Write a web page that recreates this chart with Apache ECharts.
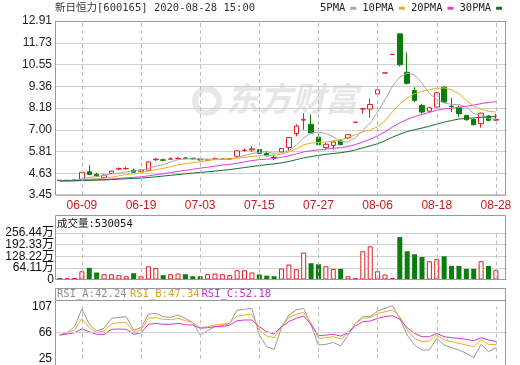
<!DOCTYPE html>
<html><head><meta charset="utf-8">
<script src="https://cdn.jsdelivr.net/npm/echarts@6/dist/echarts.min.js"></script>
<style>html,body{margin:0;padding:0;background:#fff}#c{width:520px;height:365px}</style>
</head><body><div id="c"></div>
<script>
const dates = ['06-04','06-05','06-08','06-09','06-10','06-11','06-12','06-15','06-16','06-17','06-18','06-19','06-22','06-23','06-24','06-29','06-30','07-01','07-02','07-03','07-06','07-07','07-08','07-09','07-10','07-13','07-14','07-15','07-16','07-17','07-20','07-21','07-22','07-23','07-24','07-27','07-28','07-29','07-30','07-31','08-03','08-04','08-05','08-06','08-07','08-10','08-11','08-12','08-13','08-14','08-17','08-18','08-19','08-20','08-21','08-24','08-25','08-26','08-27','08-28'];
const labelDates = ['06-09','06-19','07-03','07-15','07-27','08-06','08-18','08-28'];
const opens  = [4.25,4.24,4.24,4.30,4.71,4.57,4.39,4.62,4.86,4.88, 4.79,4.74,4.80,5.37,5.36,5.40,5.42,5.46,5.45,5.40, 5.32,5.40,5.38,5.40,5.56,5.87,5.90,5.92,5.70,5.50, 5.79,6.03,6.79,7.52,7.29,6.60,6.03,6.15,6.39,6.55, 7.40,8.13,8.12,8.95,10.08,11.09,12.21,10.12,9.13,8.32, 8.01,8.23,9.31,8.28,8.19,7.78,7.56,7.33,7.74,7.52];
const closes = [4.24,4.25,4.27,4.68,4.57,4.49,4.53,4.75,4.88,4.89, 4.69,4.80,5.25,5.40,5.34,5.41,5.44,5.44,5.42,5.36, 5.36,5.42,5.41,5.43,5.85,5.88,5.96,5.71,5.58,5.48, 5.98,6.57,7.20,7.55,6.82,6.19,6.21,6.33,6.19,6.73, 7.41,8.14,8.37,9.17,10.09,11.10,10.53,9.52,8.59,7.96, 8.19,9.00,8.50,8.26,7.87,7.54,7.27,7.90,7.51,7.56];
const lows   = [4.23,4.23,4.23,4.29,4.53,4.43,4.36,4.60,4.80,4.82, 4.66,4.70,4.79,5.30,5.28,5.39,5.40,5.40,5.38,5.33, 5.30,5.35,5.36,5.38,5.54,5.80,5.79,5.70,5.56,5.34, 5.77,5.85,6.64,7.00,6.79,6.15,5.92,5.92,6.15,6.50, 7.40,7.88,7.65,8.93,10.08,11.09,10.45,9.45,8.50,7.87, 7.95,8.20,8.45,7.95,7.68,7.50,7.25,7.11,7.46,7.47];
const highs  = [4.26,4.26,4.28,4.69,5.07,4.66,4.56,4.77,4.95,4.97, 4.88,4.83,5.27,5.46,5.42,5.50,5.50,5.52,5.47,5.42, 5.38,5.50,5.44,5.45,5.87,5.98,6.10,5.95,5.85,5.61, 6.00,6.58,7.29,7.90,7.83,6.79,6.28,6.42,6.48,6.76, 7.41,8.14,8.68,9.20,10.09,11.10,12.21,11.20,9.31,8.41, 8.25,9.05,9.35,8.73,8.32,7.80,7.58,7.92,7.80,7.87];
const ma5  = [4.23,4.24,4.24,4.33,4.40,4.45,4.51,4.60,4.64,4.71, 4.75,4.80,4.90,5.01,5.10,5.24,5.37,5.41,5.41,5.41, 5.40,5.40,5.39,5.40,5.49,5.60,5.71,5.77,5.80,5.72, 5.74,5.86,6.16,6.56,6.82,6.87,6.79,6.62,6.35,6.33, 6.57,6.96,7.37,7.96,8.63,9.37,9.85,10.08,9.97,9.54, 8.96,8.65,8.45,8.38,8.36,8.23,7.89,7.77,7.62,7.56];
const ma10 = [4.22,4.23,4.23,4.28,4.31,4.34,4.37,4.42,4.49,4.56, 4.60,4.66,4.75,4.83,4.90,4.99,5.09,5.15,5.21,5.26, 5.32,5.38,5.40,5.40,5.45,5.50,5.55,5.58,5.60,5.61, 5.67,5.79,5.96,6.18,6.27,6.30,6.33,6.39,6.45,6.58, 6.72,6.88,6.99,7.16,7.48,7.97,8.41,8.72,8.96,9.09, 9.17,9.25,9.27,9.17,8.95,8.60,8.27,8.11,8.00,7.96];
const ma20 = [4.22,4.22,4.23,4.25,4.27,4.28,4.29,4.32,4.35,4.39, 4.41,4.44,4.49,4.55,4.61,4.67,4.73,4.79,4.85,4.91, 4.96,5.02,5.08,5.11,5.18,5.25,5.32,5.37,5.40,5.43, 5.50,5.58,5.68,5.79,5.86,5.90,5.94,5.99,6.02,6.09, 6.19,6.33,6.48,6.67,6.88,7.14,7.37,7.56,7.71,7.83, 7.94,8.06,8.13,8.16,8.22,8.28,8.34,8.42,8.48,8.52];
const ma30 = [4.22,4.22,4.22,4.24,4.25,4.26,4.27,4.29,4.31,4.33, 4.35,4.37,4.40,4.44,4.48,4.52,4.56,4.60,4.64,4.68, 4.71,4.75,4.79,4.83,4.89,4.94,5.00,5.05,5.10,5.14, 5.20,5.27,5.37,5.47,5.54,5.60,5.66,5.71,5.75,5.81, 5.90,6.02,6.12,6.24,6.40,6.59,6.76,6.90,7.00,7.09, 7.19,7.30,7.41,7.50,7.58,7.61,7.64,7.67,7.70,7.72];
const volumes = [80000,70000,80000,457000,640000,385000,290000,290000,237000,180000, 347000,180000,730000,640000,237000,290000,330000,290000,180000,180000, 290000,330000,290000,240000,510000,510000,385000,275000,210000,180000, 605000,825000,567000,1486000,897000,840000,730000,585000,585000,180000, 70000,1557000,1830000,457000,275000,70000,2340000,1557000,1390000,1240000, 1007000,1117000,1280000,750000,750000,585000,585000,1007000,750000,530054];
const rsiA = [62.3,66.0,75.5,103.3,79.2,68.7,72.9,88.6,90.2,91.3, 70.2,73.9,94.9,96.5,91.3,90.2,93.9,88.6,81.8,62.3, 69.2,75.5,77.1,80.7,101.8,102.8,104.4,62.3,43.9,39.7, 73.9,93.9,101.8,104.4,78.1,46.6,47.6,50.8,45.0,62.3, 80.7,91.3,91.3,100.2,104.4,108.6,88.6,62.3,46.6,38.7, 38.7,57.1,46.6,42.4,38.7,33.4,26.6,47.6,36.1,42.24];
const rsiB = [62.3,65.0,70.2,88.6,73.9,66.5,68.7,79.7,81.8,81.8, 67.6,70.2,88.6,89.7,87.1,86.5,88.6,84.9,81.8,73.9, 75.5,78.1,79.2,81.8,92.3,93.9,94.9,70.2,60.8,58.1, 75.5,90.2,94.9,98.1,80.7,57.1,58.1,59.7,56.0,65.0, 80.7,88.6,89.7,96.5,99.1,101.8,91.3,70.2,57.1,51.8, 52.9,62.3,54.5,51.8,49.2,46.6,43.9,54.5,47.6,47.34];
const rsiC = [62.3,63.9,66.0,71.8,67.6,63.4,63.4,71.3,71.8,71.3, 63.4,66.0,79.2,80.7,79.2,79.2,80.7,78.6,78.1,72.9, 73.9,75.5,75.5,78.1,84.9,86.0,86.0,75.5,67.6,63.9, 75.5,83.4,88.6,92.3,79.2,61.3,62.3,63.4,60.8,66.0, 76.5,83.4,84.4,88.6,91.3,92.8,87.6,73.9,65.0,59.7, 59.7,65.0,59.7,58.1,57.1,55.5,53.4,58.1,54.5,52.18];
const priceTickLabels = ['3.45','4.63','5.81','7.00','8.18','9.36','10.55','11.73','12.91'];
const volTickLabels = ['0','64.11万','128.22万','192.33万','256.44万'];
const rsiTickLabels = ['25','66','107'];
const stockTitle = '新日恒力[600165] 2020-08-28 15:00';
const volTitle = '成交量:530054';
const rsiTitles = ['RSI_A:42.24','RSI_B:47.34','RSI_C:52.18'];

const RED = '#e41c23', GREEN = '#0b7d0b';
const C_MA5 = '#a9a9a9', C_MA10 = '#e8b224', C_MA20 = '#e23ce2', C_MA30 = '#176b2c';
const MONO = '"DejaVu Sans Mono","Noto Sans CJK SC",monospace';
const SANS = '"Liberation Sans","Noto Sans CJK SC",sans-serif';
const P_MIN = 3.45, P_MAX = 12.91, P_STEP = (P_MAX - P_MIN) / 8;
const V_STEP = 641100;

const cats = dates.concat(['']);
const candle = dates.map((d, i) => [opens[i], closes[i], lows[i], highs[i]]);
const volData = volumes.map((v, i) => {
  let up;
  if (closes[i] > opens[i]) up = true;
  else if (closes[i] < opens[i]) up = false;
  else up = i === 0 ? true : closes[i - 1] <= closes[i];
  return up ? {value: v, itemStyle: {color: '#fff', borderColor: RED, borderWidth: 1}}
            : {value: v, itemStyle: {color: GREEN}};
});
const vLines = labelDates.map(d => ({xAxis: d}));
const mlStyle = {symbol: ['none', 'none'], silent: true, animation: false, label: {show: false},
  lineStyle: {color: '#bdbdbd', type: [4, 3], width: 1}};

const L = 56, W = 451;
const grids = [
  {left: L, top: 21, width: W, height: 174},
  {left: L, top: 233, width: W, height: 46.5},
  {left: L, top: 306.7, width: W, height: 52}
];
const xAxisBase = (gi, showLabel) => ({
  type: 'category', gridIndex: gi, data: cats, boundaryGap: true,
  axisLine: {show: false}, axisTick: {show: false}, splitLine: {show: false},
  axisLabel: showLabel ? {
    show: true, interval: (idx, val) => labelDates.includes(val),
    color: '#cc1a1a', fontSize: 12, fontFamily: SANS, margin: 5
  } : {show: false}
});
const yLabelCommon = {showMinLabel: true, showMaxLabel: true, hideOverlap: false};
const volAxis = (parity, withSplit) => ({
  type: 'value', gridIndex: 1, min: 0, max: V_STEP * 4, interval: V_STEP, position: 'left',
  axisLine: {show: false}, axisTick: {show: false},
  splitLine: {show: withSplit, lineStyle: {color: '#cfcfcf', width: 1}},
  axisLabel: Object.assign({fontSize: 12, color: '#111', fontFamily: SANS, margin: 2,
    formatter: v => { const k = Math.round(v / V_STEP); return k % 2 === parity ? (volTickLabels[k] || '') : ''; }},
    yLabelCommon)
});

const chart = echarts.init(document.getElementById('c'), null, {renderer: 'canvas'});
chart.setOption({
  animation: false,
  backgroundColor: '#fff',
  grid: grids,
  legend: {
    left: 320, top: 3, padding: 0, itemWidth: 6, itemHeight: 3, itemGap: 6, align: 'right', icon: 'rect',
    textStyle: {fontFamily: MONO, fontSize: 10.5, color: '#222'},
    data: ['5PMA', '10PMA', '20PMA', '30PMA'], selectedMode: false
  },
  xAxis: [xAxisBase(0, true), xAxisBase(1, false), xAxisBase(2, false)],
  yAxis: [
    {type: 'value', gridIndex: 0, min: P_MIN, max: P_MAX, interval: P_STEP,
      axisLine: {show: false}, axisTick: {show: false},
      splitLine: {show: true, lineStyle: {color: '#cfcfcf', width: 1}},
      axisLabel: Object.assign({fontSize: 12, color: '#222', fontFamily: SANS, margin: 4,
        formatter: v => priceTickLabels[Math.round((v - P_MIN) / P_STEP)] || ''}, yLabelCommon)},
    volAxis(0, true),
    {type: 'value', gridIndex: 2, min: 25, max: 107, interval: 41,
      axisLine: {show: false}, axisTick: {show: false}, splitLine: {show: false},
      axisLabel: Object.assign({fontSize: 12, color: '#111', fontFamily: SANS, margin: 4,
        formatter: v => rsiTickLabels[Math.round((v - 25) / 41)] || ''}, yLabelCommon)},
    volAxis(1, false)
  ],
  graphic: [
    {type: 'text', left: 226, top: 82, z: 0, silent: true,
      style: {text: '东方财富', font: 'italic bold 33px "Noto Sans CJK SC"', fill: '#e6e6e6'}},
    {type: 'circle', shape: {cx: 207, cy: 101, r: 12}, z: 0, silent: true,
      style: {fill: 'none', stroke: '#e8e8e8', lineWidth: 6}},
    {type: 'text', x: 55, y: 8, z: 10, silent: true,
      style: {text: stockTitle, font: '10.5px ' + MONO, fill: '#333', verticalAlign: 'middle'}},
    {type: 'rect', shape: {x: 55.5, y: 21.5, width: 450, height: 173.5}, z: 10, silent: true,
      style: {fill: 'none', stroke: '#999', lineWidth: 1}},
    {type: 'rect', shape: {x: 55.5, y: 215.5, width: 450, height: 64}, z: 10, silent: true,
      style: {fill: 'none', stroke: '#999', lineWidth: 1}},
    {type: 'text', x: 57, y: 224, z: 10, silent: true,
      style: {text: volTitle, font: '10.5px ' + MONO, fill: '#111', verticalAlign: 'middle'}},
    {type: 'rect', shape: {x: 55.5, y: 288.5, width: 450, height: 80}, z: 10, silent: true,
      style: {fill: 'none', stroke: '#999', lineWidth: 1}},
    {type: 'line', shape: {x1: 55.5, y1: 300.5, x2: 505.5, y2: 300.5}, z: 10, silent: true,
      style: {stroke: '#999', lineWidth: 1}},
    {type: 'text', x: 57, y: 294.5, z: 10, silent: true,
      style: {text: rsiTitles[0], font: '10.5px ' + MONO, fill: '#8c8c8c', verticalAlign: 'middle'}},
    {type: 'text', x: 130, y: 294.5, z: 10, silent: true,
      style: {text: rsiTitles[1], font: '10.5px ' + MONO, fill: '#d9a21b', verticalAlign: 'middle'}},
    {type: 'text', x: 201.5, y: 294.5, z: 10, silent: true,
      style: {text: rsiTitles[2], font: '10.5px ' + MONO, fill: '#c92fc9', verticalAlign: 'middle'}}
  ],
  series: [
    {type: 'candlestick', name: 'K', xAxisIndex: 0, yAxisIndex: 0, data: candle, barWidth: 5,
      itemStyle: {color: '#fff', color0: GREEN, borderColor: RED, borderColor0: GREEN, borderWidth: 1},
      markLine: Object.assign({data: vLines}, mlStyle)},
    {type: 'line', name: '5PMA', xAxisIndex: 0, yAxisIndex: 0, data: ma5, symbol: 'none', color: C_MA5, lineStyle: {width: 1}},
    {type: 'line', name: '10PMA', xAxisIndex: 0, yAxisIndex: 0, data: ma10, symbol: 'none', color: C_MA10, lineStyle: {width: 1}},
    {type: 'line', name: '20PMA', xAxisIndex: 0, yAxisIndex: 0, data: ma20, symbol: 'none', color: C_MA20, lineStyle: {width: 1}},
    {type: 'line', name: '30PMA', xAxisIndex: 0, yAxisIndex: 0, data: ma30, symbol: 'none', color: C_MA30, lineStyle: {width: 1}},
    {type: 'bar', name: 'VOL', xAxisIndex: 1, yAxisIndex: 1, data: volData, barWidth: 5,
      markLine: Object.assign({data: vLines}, mlStyle)},
    {type: 'line', name: 'RSI_A', xAxisIndex: 2, yAxisIndex: 2, data: rsiA, symbol: 'none', color: '#9a9a9a', lineStyle: {width: 1}, clip: false,
      markLine: Object.assign({}, mlStyle, {data: vLines})},
    {type: 'line', name: 'RSI_B', xAxisIndex: 2, yAxisIndex: 2, data: rsiB, symbol: 'none', color: '#e8b224', lineStyle: {width: 1}, clip: false,
      markLine: {symbol: ['none', 'none'], silent: true, animation: false, label: {show: false},
        lineStyle: {color: '#cfcfcf', type: 'solid', width: 1}, data: [{yAxis: 66}]}},
    {type: 'line', name: 'RSI_C', xAxisIndex: 2, yAxisIndex: 2, data: rsiC, symbol: 'none', color: '#d835d8', lineStyle: {width: 1}, clip: false}
  ]
});
</script>
</body></html>
